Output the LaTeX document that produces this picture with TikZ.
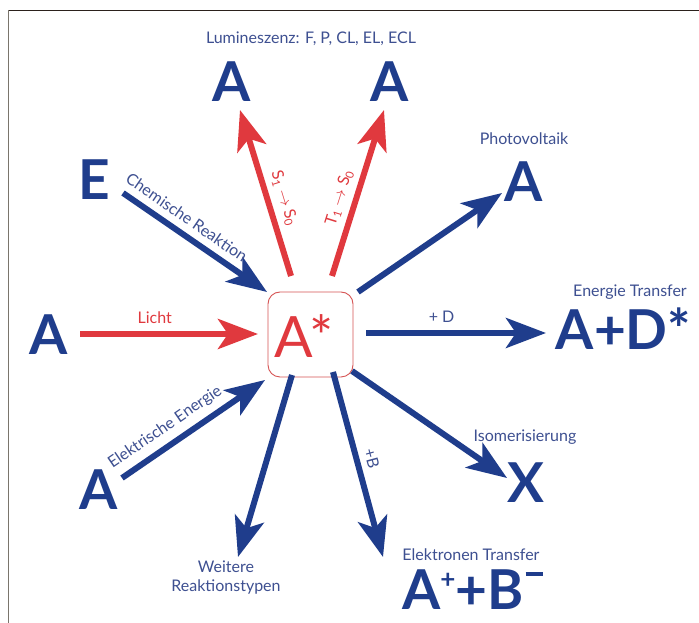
\documentclass[tikz,border=0pt]{standalone}
\usepackage{fontspec}
\setmainfont{Lato}
\usetikzlibrary{arrows.meta}
\definecolor{dblue}{RGB}{31,61,140}
\definecolor{lblue}{RGB}{62,80,145}
\definecolor{dred}{RGB}{224,57,62}
\definecolor{boxred}{RGB}{214,84,84}
\definecolor{frametop}{RGB}{43,33,28}
\definecolor{frameleft}{RGB}{122,117,108}
\begin{document}
\begin{tikzpicture}[x=1pt,y=1pt,
  big/.style={text=dblue, font=\fontsize{55}{55}\selectfont\bfseries, inner sep=0pt, anchor=base},
  lbl/.style={text=lblue, font=\fontsize{16}{19}\selectfont, inner sep=1pt},
  rlbl/.style={text=dred, font=\fontsize{16}{19}\selectfont, inner sep=1pt},
  tipshape/.style={-{Stealth[length=40pt,width=30pt,inset=10pt]}},
  barrow/.style={draw=dblue, line width=6pt, tipshape},
  rarrow/.style={draw=dred, line width=6pt, tipshape},
]
\useasboundingbox (0,0) rectangle (699,623);
\fill[white] (0,0) rectangle (699,623);
% frame
\draw[frametop, line width=1.5pt] (8,612.5) -- (699,612.5);
\draw[frameleft, line width=1.5pt] (8.7,612.5) -- (8.7,0);

% centre box
\node[draw=boxred, line width=0.9pt, rounded corners=12pt, minimum width=85pt, minimum height=85pt, inner sep=0pt] (Astar) at (310.5,288.5) {};
\node[text=dred, font=\fontsize{57}{57}\selectfont, inner sep=0pt, anchor=base] (Astartxt) at (304,265) {A*};

% big letters
\node[big] (Atl) at (231.5,521) {A};
\node[big] (Atr) at (390,521) {A};
\node[big] (E) at (94.5,423) {E};
\node[big] (Aleft) at (49,268) {A};
\node[big] (Apv) at (523.5,421) {A};
\node[big] (AD) at (623.5,273) {A+D*};
\node[big] (X) at (525.5,120) {X};
\node[big, anchor=base west] (AB) at (402,13) {A\raisebox{21pt}{\fontsize{26}{26}\selectfont +}+B\hspace{2pt}\raisebox{34pt}{\rule{17pt}{3.5pt}}};
\node[big] (Ael) at (99,113) {A};

% titles
\node[lbl] (lum) at (311,584) {Lumineszenz: F, P, CL, EL, ECL};
\node[lbl] (pv) at (524,484) {Photovoltaik};
\node[lbl] (et) at (630,331) {Energie Transfer};
\node[lbl] (iso) at (525,186) {Isomerisierung};
\node[lbl] (elt) at (471,68) {Elektronen Transfer};
\node[lbl, align=center] (wr) at (226,45) {Weitere\\Reaktionstypen};

% arrow end points
\coordinate (s1) at (80,289);   \coordinate (e1) at (258,289);
\coordinate (s2) at (123,430);  \coordinate (e2) at (267,331);
\coordinate (s3) at (291,347);  \coordinate (e3) at (240,513);
\coordinate (s4) at (332,347);  \coordinate (e4) at (384,513);
\coordinate (s5) at (358,331);  \coordinate (e5) at (502,430);
\coordinate (s6) at (366,290);  \coordinate (e6) at (546,290);
\coordinate (s7) at (352,252);  \coordinate (e7) at (507,145);
\coordinate (s8) at (333,251);  \coordinate (e8) at (383,66);
\coordinate (s9) at (292,248);  \coordinate (e9) at (238,66);
\coordinate (s10) at (122,145); \coordinate (e10) at (265,243);

\draw[rarrow] (s1) -- (e1) node[rlbl, pos=0.42, above=6pt] {Licht};
\draw[barrow] (s2) -- (e2) node[lbl, pos=0.38, sloped, above=6pt] {Chemische Reaktion};
\draw[rarrow] (s3) -- (e3) node[rlbl, pos=0.44, sloped, above=5pt] {S\textsubscript{1} $\rightarrow$ S\textsubscript{0}};
\draw[rarrow] (s4) -- (e4) node[rlbl, pos=0.44, sloped, above=5pt] {T\textsubscript{1} $\rightarrow$ S\textsubscript{0}};
\draw[barrow] (s5) -- (e5);
\draw[barrow] (s6) -- (e6) node[lbl, pos=0.42, above=6pt] {+ D};
\draw[barrow] (s7) -- (e7);
\draw[barrow] (s8) -- (e8) node[lbl, pos=0.49, sloped, above=5pt] {+B};
\draw[barrow] (s9) -- (e9);
\draw[barrow] (s10) -- (e10) node[lbl, pos=0.37, sloped, above=6pt] {Elektrische Energie};
\end{tikzpicture}
\end{document}
